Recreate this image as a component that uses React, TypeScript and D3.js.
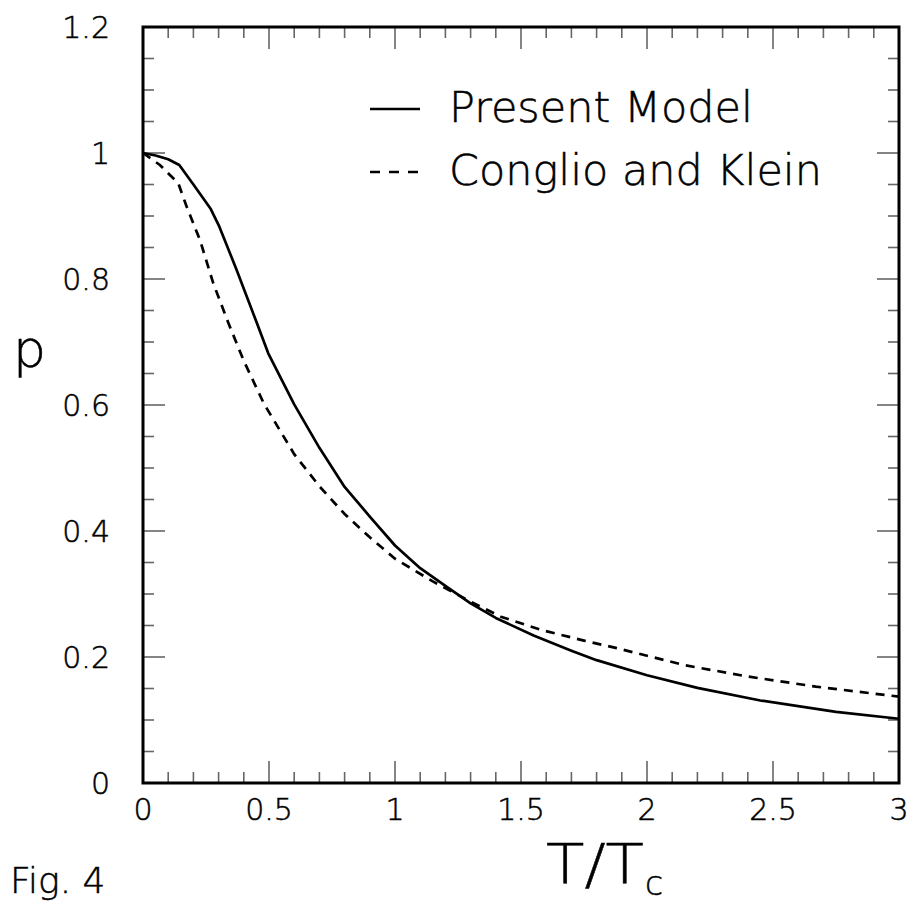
import React from "react";
import * as d3 from "d3";

const solidX = [0, 0.05, 0.1, 0.144, 0.2, 0.269, 0.303, 0.372, 0.45, 0.497, 0.6, 0.7, 0.8, 0.9, 1.0, 1.1, 1.2, 1.3, 1.4, 1.55, 1.7, 1.8, 2.0, 2.2, 2.45, 2.75, 3.0];
const solidP = [1.0, 0.996, 0.99, 0.981, 0.95, 0.911, 0.883, 0.814, 0.732, 0.682, 0.601, 0.532, 0.47, 0.423, 0.377, 0.341, 0.313, 0.285, 0.262, 0.234, 0.21, 0.195, 0.171, 0.151, 0.131, 0.113, 0.102];

const dashedX = [0, 0.067, 0.14, 0.173, 0.226, 0.279, 0.339, 0.4, 0.48, 0.6, 0.7, 0.8, 0.9, 1.0, 1.15, 1.3, 1.42, 1.58, 1.75, 1.88, 2.0, 2.15, 2.4, 2.67, 3.0];
const dashedP = [1.0, 0.981, 0.952, 0.915, 0.862, 0.793, 0.73, 0.67, 0.602, 0.522, 0.471, 0.427, 0.39, 0.356, 0.32, 0.288, 0.264, 0.243, 0.226, 0.214, 0.202, 0.187, 0.169, 0.153, 0.137];

const xTickLabels = ["0", "0.5", "1", "1.5", "2", "2.5", "3"];
const yTickLabels = ["0", "0.2", "0.4", "0.6", "0.8", "1", "1.2"];
const legendLabels = ["Present Model", "Conglio and Klein"];

const W = 913;
const H = 903;
const L = 143, R = 899, T = 27, B = 783;
const FONT = "'DejaVu Sans', 'Liberation Sans', sans-serif";
const TXT = { fontFamily: FONT, fontWeight: 300, fill: "#000", stroke: "#000", strokeWidth: 0.5 } as const;

export default function App() {
  const x = d3.scaleLinear().domain([0, 3]).range([L, R]);
  const y = d3.scaleLinear().domain([0, 1.2]).range([B, T]);
  const line = d3.line<[number, number]>().x((d) => x(d[0])).y((d) => y(d[1]));
  const solid = solidX.map((v, i) => [v, solidP[i]] as [number, number]);
  const dashed = dashedX.map((v, i) => [v, dashedP[i]] as [number, number]);

  const xMinor = d3.range(0, 31).map((i) => i / 10);
  const yMinor = d3.range(0, 25).map((i) => i * 0.05);
  const tickColor = "#666";

  return (
    <svg width={W} height={H} style={{ position: "absolute", left: 0, top: 0, background: "#fff" }}>
      <rect x={0} y={0} width={W} height={H} fill="#fff" />
      {xMinor.map((v, i) => {
        const major = i % 5 === 0;
        const len = major ? 22 : 11;
        return (
          <g key={"xt" + i} stroke={tickColor} strokeWidth={1.6}>
            <line x1={x(v)} x2={x(v)} y1={B} y2={B - len} />
            <line x1={x(v)} x2={x(v)} y1={T} y2={T + len} />
          </g>
        );
      })}
      {yMinor.map((v, i) => {
        const major = i % 4 === 0;
        const len = major ? 22 : 11;
        return (
          <g key={"yt" + i} stroke={tickColor} strokeWidth={1.6}>
            <line x1={L} x2={L + len} y1={y(v)} y2={y(v)} />
            <line x1={R} x2={R - len} y1={y(v)} y2={y(v)} />
          </g>
        );
      })}
      <path d={line(solid) || ""} fill="none" stroke="#000" strokeWidth={2.7} strokeLinejoin="round" />
      <path d={line(dashed) || ""} fill="none" stroke="#000" strokeWidth={2.7} strokeDasharray="9,7" />
      <rect x={L} y={T} width={R - L} height={B - T} fill="none" stroke="#000" strokeWidth={3} />
      {xTickLabels.map((s, i) => (
        <text key={"xl" + i} x={x(+s)} y={820} textAnchor="middle" fontSize={30} {...TXT}>
          {s}
        </text>
      ))}
      {yTickLabels.map((s, i) => (
        <text key={"yl" + i} x={110} y={y(+s) + 11} textAnchor="end" fontSize={30} {...TXT}>
          {s}
        </text>
      ))}
      <text x={13} y={367} fontSize={52} {...TXT}>p</text>
      <text x={546} y={883} fontSize={55} textLength={98} lengthAdjust="spacingAndGlyphs" {...TXT}>T/T</text>
      <text x={645} y={895} fontSize={33} {...TXT}>c</text>
      <text x={10} y={893} fontSize={36} {...TXT}>Fig. 4</text>
      <line x1={370} x2={420} y1={109} y2={109} stroke="#000" strokeWidth={2.7} />
      <line x1={370} x2={420} y1={172} y2={172} stroke="#000" strokeWidth={2.7} strokeDasharray="10,9" />
      <text x={449} y={122} fontSize={43} textLength={304} lengthAdjust="spacingAndGlyphs" {...TXT}>{legendLabels[0]}</text>
      <text x={449} y={185} fontSize={43} textLength={373} lengthAdjust="spacingAndGlyphs" {...TXT}>{legendLabels[1]}</text>
    </svg>
  );
}
